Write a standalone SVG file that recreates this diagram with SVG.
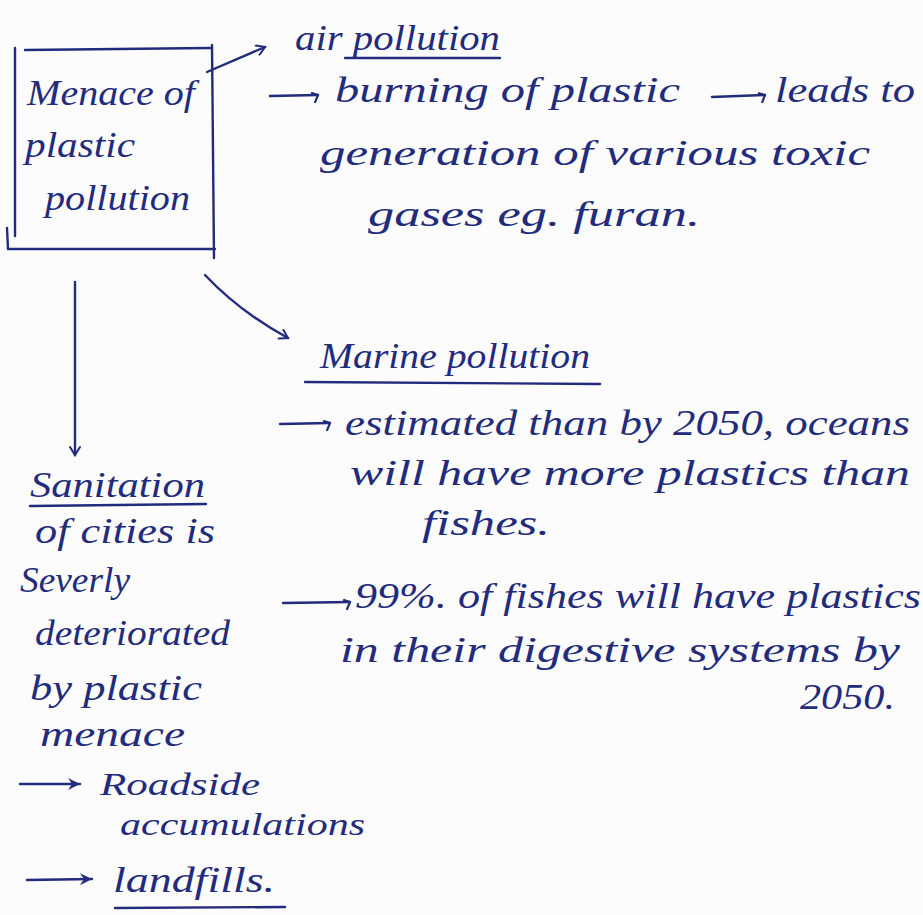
<svg xmlns="http://www.w3.org/2000/svg" width="923" height="915" viewBox="0 0 923 915">
  <style>
    .ink { fill: #222b7c; font-family: "Liberation Serif", "DejaVu Serif", serif; font-style: italic; font-size: 36px; }
    .small { font-size: 31px; }
    .stroke { fill: none; stroke: #222b7c; stroke-width: 2.4; stroke-linecap: round; stroke-linejoin: round; }
  </style>
  <defs>
    <marker id="head" viewBox="0 0 12 12" refX="10" refY="6" markerWidth="12" markerHeight="12" markerUnits="userSpaceOnUse" orient="auto">
      <path d="M2,1 L10,6 L2,11" fill="none" stroke="#222b7c" stroke-width="2" stroke-linecap="round"/>
    </marker>
    <marker id="tick" viewBox="0 0 12 12" refX="9" refY="4" markerWidth="12" markerHeight="12" markerUnits="userSpaceOnUse" orient="auto">
      <path d="M3,2 L9,4 L6,11" fill="none" stroke="#222b7c" stroke-width="2.2" stroke-linecap="round" stroke-linejoin="round"/>
    </marker>
    <marker id="bold" viewBox="0 0 16 16" refX="14" refY="8" markerWidth="16" markerHeight="16" markerUnits="userSpaceOnUse" orient="auto">
      <path d="M2,2 L14,8 L2,14 L6,8 Z" fill="#222b7c"/>
    </marker>
  </defs>
  <rect width="923" height="915" fill="#fcfcfc"/>

  <!-- central topic box -->
  <g id="menace">
    <path class="stroke" d="M25,50 L210,48 M212,45 L214,258 M8,249 L215,249 M15,48 L15,236 M7,228 L8,249"/>
    <text class="ink" x="27" y="105" textLength="168" lengthAdjust="spacingAndGlyphs">Menace of</text>
    <text class="ink" x="25" y="157" textLength="110" lengthAdjust="spacingAndGlyphs">plastic</text>
    <text class="ink" x="45" y="210" textLength="145" lengthAdjust="spacingAndGlyphs">pollution</text>
  </g>

  <!-- air pollution branch -->
  <g id="air-pollution">
    <text class="ink" x="295" y="50" textLength="205" lengthAdjust="spacingAndGlyphs">air pollution</text>
    <line class="stroke" x1="345" y1="58" x2="500" y2="58"/>
    <text class="ink" x="335" y="102" textLength="345" lengthAdjust="spacingAndGlyphs">burning of plastic</text>
    <text class="ink" x="775" y="102" textLength="140" lengthAdjust="spacingAndGlyphs">leads to</text>
    <text class="ink" x="320" y="165" textLength="550" lengthAdjust="spacingAndGlyphs">generation of various toxic</text>
    <text class="ink" x="368" y="226" textLength="332" lengthAdjust="spacingAndGlyphs">gases eg. furan.</text>
  </g>

  <!-- marine pollution branch -->
  <g id="marine-pollution">
    <text class="ink" x="320" y="368" textLength="270" lengthAdjust="spacingAndGlyphs">Marine pollution</text>
    <line class="stroke" x1="305" y1="382" x2="600" y2="384"/>
    <text class="ink" x="345" y="435" textLength="565" lengthAdjust="spacingAndGlyphs">estimated than by 2050, oceans</text>
    <text class="ink" x="350" y="485" textLength="560" lengthAdjust="spacingAndGlyphs">will have more plastics than</text>
    <text class="ink" x="422" y="535" textLength="128" lengthAdjust="spacingAndGlyphs">fishes.</text>
    <text class="ink" x="355" y="608" textLength="566" lengthAdjust="spacingAndGlyphs">99%. of fishes will have plastics</text>
    <text class="ink" x="340" y="662" textLength="560" lengthAdjust="spacingAndGlyphs">in their digestive systems by</text>
    <text class="ink" x="800" y="709" textLength="95" lengthAdjust="spacingAndGlyphs">2050.</text>
  </g>

  <!-- sanitation branch -->
  <g id="sanitation">
    <text class="ink" x="30" y="497" textLength="175" lengthAdjust="spacingAndGlyphs">Sanitation</text>
    <line class="stroke" x1="30" y1="506" x2="206" y2="504"/>
    <text class="ink" x="35" y="543" textLength="180" lengthAdjust="spacingAndGlyphs">of cities is</text>
    <text class="ink" x="20" y="592" textLength="110" lengthAdjust="spacingAndGlyphs">Severly</text>
    <text class="ink" x="35" y="645" textLength="195" lengthAdjust="spacingAndGlyphs">deteriorated</text>
    <text class="ink" x="30" y="700" textLength="172" lengthAdjust="spacingAndGlyphs">by plastic</text>
    <text class="ink" x="40" y="746" textLength="145" lengthAdjust="spacingAndGlyphs">menace</text>
    <text class="ink small" x="100" y="795" textLength="160" lengthAdjust="spacingAndGlyphs">Roadside</text>
    <text class="ink small" x="120" y="835" textLength="245" lengthAdjust="spacingAndGlyphs">accumulations</text>
    <text class="ink" x="113" y="892" textLength="162" lengthAdjust="spacingAndGlyphs">landfills.</text>
    <line class="stroke" x1="115" y1="908" x2="285" y2="907"/>
  </g>

  <!-- connectors -->
  <g id="connectors">
    <path class="stroke" d="M207,72 L265,47" marker-end="url(#head)"/>
    <path class="stroke" d="M205,275 Q240,312 288,338" marker-end="url(#head)"/>
    <path class="stroke" d="M75,282 L75,455" marker-end="url(#head)"/>
    <path class="stroke" d="M270,96 L318,95" marker-end="url(#tick)"/>
    <path class="stroke" d="M712,97 L765,95" marker-end="url(#tick)"/>
    <path class="stroke" d="M280,424 L330,423" marker-end="url(#tick)"/>
    <path class="stroke" d="M283,603 L350,602" marker-end="url(#tick)"/>
    <path class="stroke" d="M20,784 L80,784" marker-end="url(#bold)"/>
    <path class="stroke" d="M27,880 L92,879" marker-end="url(#bold)"/>
  </g>
</svg>
